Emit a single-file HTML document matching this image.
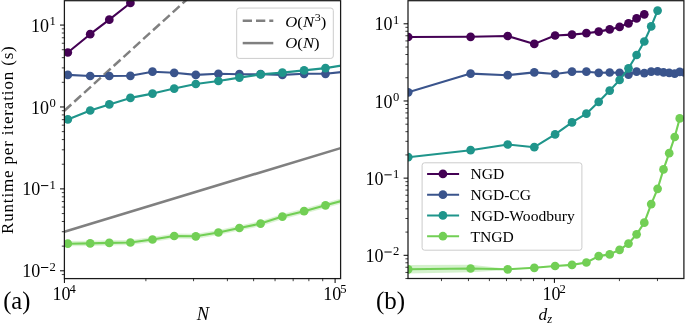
<!DOCTYPE html><html><head><meta charset="utf-8"><style>html,body{margin:0;padding:0;background:#fff;overflow:hidden;font-family:"Liberation Serif",serif;}svg{display:block;will-change:transform;}</style></head><body><svg width="685" height="323" viewBox="0 0 685 323">
<rect width="685" height="323" fill="#fff"/>
<defs><clipPath id="cl"><rect x="64.4" y="0" width="276.2" height="278.6"/></clipPath><clipPath id="cr"><rect x="408.0" y="0" width="275.9" height="278.5"/></clipPath></defs>
<g clip-path="url(#cl)">
<line x1="64.40" y1="110.70" x2="264.40" y2="-70.85" stroke="#808080" stroke-width="2.5" stroke-dasharray="9.29 4.01"/>
<line x1="64.40" y1="231.70" x2="340.60" y2="148.13" stroke="#808080" stroke-width="2.6" />
<polygon points="67.80,241.10 90.20,240.80 109.30,240.30 130.40,239.90 152.50,236.90 174.20,233.40 195.80,233.70 218.40,229.90 239.40,225.40 260.60,221.00 282.40,214.00 304.10,208.60 325.50,202.70 347.20,196.90 347.20,202.10 325.50,207.90 304.10,213.80 282.40,219.20 260.60,226.20 239.40,230.60 218.40,235.10 195.80,238.90 174.20,238.60 152.50,242.10 130.40,245.10 109.30,245.50 90.20,246.00 67.80,246.30" fill="#72cf55" fill-opacity="0.25"/>
<polyline points="67.80,52.50 90.20,34.20 109.30,19.70 130.40,3.00 152.50,-16.00" fill="none" stroke="#440154" stroke-width="2.1" stroke-linejoin="round" stroke-linecap="butt" />
<circle cx="67.80" cy="52.50" r="4.35" fill="#440154"/>
<circle cx="90.20" cy="34.20" r="4.35" fill="#440154"/>
<circle cx="109.30" cy="19.70" r="4.35" fill="#440154"/>
<circle cx="130.40" cy="3.00" r="4.35" fill="#440154"/>
<circle cx="152.50" cy="-16.00" r="4.35" fill="#440154"/>
<polyline points="67.80,74.90 90.20,76.00 109.30,76.00 130.40,75.80 152.50,71.70 174.20,72.80 195.80,74.90 218.40,73.80 239.40,74.20 260.60,74.20 282.40,74.90 304.10,73.80 325.50,73.80 347.20,71.50" fill="none" stroke="#3a548c" stroke-width="2.1" stroke-linejoin="round" stroke-linecap="butt" />
<circle cx="67.80" cy="74.90" r="4.35" fill="#3a548c"/>
<circle cx="90.20" cy="76.00" r="4.35" fill="#3a548c"/>
<circle cx="109.30" cy="76.00" r="4.35" fill="#3a548c"/>
<circle cx="130.40" cy="75.80" r="4.35" fill="#3a548c"/>
<circle cx="152.50" cy="71.70" r="4.35" fill="#3a548c"/>
<circle cx="174.20" cy="72.80" r="4.35" fill="#3a548c"/>
<circle cx="195.80" cy="74.90" r="4.35" fill="#3a548c"/>
<circle cx="218.40" cy="73.80" r="4.35" fill="#3a548c"/>
<circle cx="239.40" cy="74.20" r="4.35" fill="#3a548c"/>
<circle cx="260.60" cy="74.20" r="4.35" fill="#3a548c"/>
<circle cx="282.40" cy="74.90" r="4.35" fill="#3a548c"/>
<circle cx="304.10" cy="73.80" r="4.35" fill="#3a548c"/>
<circle cx="325.50" cy="73.80" r="4.35" fill="#3a548c"/>
<circle cx="347.20" cy="71.50" r="4.35" fill="#3a548c"/>
<polyline points="67.80,119.40 90.20,110.50 109.30,104.40 130.40,97.90 152.50,93.60 174.20,88.60 195.80,84.00 218.40,81.00 239.40,77.60 260.60,74.40 282.40,72.60 304.10,70.40 325.50,68.10 347.20,64.60" fill="none" stroke="#1f958b" stroke-width="2.1" stroke-linejoin="round" stroke-linecap="butt" />
<circle cx="67.80" cy="119.40" r="4.35" fill="#1f958b"/>
<circle cx="90.20" cy="110.50" r="4.35" fill="#1f958b"/>
<circle cx="109.30" cy="104.40" r="4.35" fill="#1f958b"/>
<circle cx="130.40" cy="97.90" r="4.35" fill="#1f958b"/>
<circle cx="152.50" cy="93.60" r="4.35" fill="#1f958b"/>
<circle cx="174.20" cy="88.60" r="4.35" fill="#1f958b"/>
<circle cx="195.80" cy="84.00" r="4.35" fill="#1f958b"/>
<circle cx="218.40" cy="81.00" r="4.35" fill="#1f958b"/>
<circle cx="239.40" cy="77.60" r="4.35" fill="#1f958b"/>
<circle cx="260.60" cy="74.40" r="4.35" fill="#1f958b"/>
<circle cx="282.40" cy="72.60" r="4.35" fill="#1f958b"/>
<circle cx="304.10" cy="70.40" r="4.35" fill="#1f958b"/>
<circle cx="325.50" cy="68.10" r="4.35" fill="#1f958b"/>
<circle cx="347.20" cy="64.60" r="4.35" fill="#1f958b"/>
<polyline points="67.80,243.70 90.20,243.40 109.30,242.90 130.40,242.50 152.50,239.50 174.20,236.00 195.80,236.30 218.40,232.50 239.40,228.00 260.60,223.60 282.40,216.60 304.10,211.20 325.50,205.30 347.20,199.50" fill="none" stroke="#72cf55" stroke-width="2.1" stroke-linejoin="round" stroke-linecap="butt" />
<circle cx="67.80" cy="243.70" r="4.35" fill="#72cf55"/>
<circle cx="90.20" cy="243.40" r="4.35" fill="#72cf55"/>
<circle cx="109.30" cy="242.90" r="4.35" fill="#72cf55"/>
<circle cx="130.40" cy="242.50" r="4.35" fill="#72cf55"/>
<circle cx="152.50" cy="239.50" r="4.35" fill="#72cf55"/>
<circle cx="174.20" cy="236.00" r="4.35" fill="#72cf55"/>
<circle cx="195.80" cy="236.30" r="4.35" fill="#72cf55"/>
<circle cx="218.40" cy="232.50" r="4.35" fill="#72cf55"/>
<circle cx="239.40" cy="228.00" r="4.35" fill="#72cf55"/>
<circle cx="260.60" cy="223.60" r="4.35" fill="#72cf55"/>
<circle cx="282.40" cy="216.60" r="4.35" fill="#72cf55"/>
<circle cx="304.10" cy="211.20" r="4.35" fill="#72cf55"/>
<circle cx="325.50" cy="205.30" r="4.35" fill="#72cf55"/>
<circle cx="347.20" cy="199.50" r="4.35" fill="#72cf55"/>
</g>
<g clip-path="url(#cr)">
<polygon points="408.20,265.10 470.60,264.80 507.70,268.70 534.30,267.30 555.10,265.50 572.00,264.40 586.40,262.00 598.70,255.60 609.70,253.90 619.60,249.30 628.50,243.10 636.60,233.80 644.30,222.20 651.20,203.60 657.60,188.30 663.50,168.90 669.20,152.70 674.70,136.50 679.70,117.90 679.70,118.90 674.70,137.50 669.20,153.70 663.50,169.90 657.60,189.30 651.20,204.60 644.30,223.20 636.60,234.80 628.50,244.10 619.60,250.30 609.70,254.90 598.70,256.60 586.40,263.00 572.00,265.40 555.10,266.50 534.30,268.30 507.70,269.90 470.60,272.20 408.20,273.50" fill="#72cf55" fill-opacity="0.3"/>
<polyline points="408.20,37.00 470.60,36.80 507.70,36.00 534.30,43.90 555.10,35.50 572.00,34.60 586.40,33.20 598.70,31.60 609.70,29.40 619.60,26.90 628.50,23.30 636.60,18.40 644.30,14.30" fill="none" stroke="#440154" stroke-width="2.1" stroke-linejoin="round" stroke-linecap="butt" />
<circle cx="408.20" cy="37.00" r="4.35" fill="#440154"/>
<circle cx="470.60" cy="36.80" r="4.35" fill="#440154"/>
<circle cx="507.70" cy="36.00" r="4.35" fill="#440154"/>
<circle cx="534.30" cy="43.90" r="4.35" fill="#440154"/>
<circle cx="555.10" cy="35.50" r="4.35" fill="#440154"/>
<circle cx="572.00" cy="34.60" r="4.35" fill="#440154"/>
<circle cx="586.40" cy="33.20" r="4.35" fill="#440154"/>
<circle cx="598.70" cy="31.60" r="4.35" fill="#440154"/>
<circle cx="609.70" cy="29.40" r="4.35" fill="#440154"/>
<circle cx="619.60" cy="26.90" r="4.35" fill="#440154"/>
<circle cx="628.50" cy="23.30" r="4.35" fill="#440154"/>
<circle cx="636.60" cy="18.40" r="4.35" fill="#440154"/>
<circle cx="644.30" cy="14.30" r="4.35" fill="#440154"/>
<polyline points="408.20,92.30 470.60,73.60 507.70,75.20 534.30,72.40 555.10,74.00 572.00,71.70 586.40,71.70 598.70,72.80 609.70,72.50 619.60,72.80 628.50,74.60 636.60,71.70 644.30,73.10 651.20,71.70 657.60,71.40 663.50,72.30 669.20,72.80 674.70,73.60 679.70,71.90 684.40,72.50" fill="none" stroke="#3a548c" stroke-width="2.1" stroke-linejoin="round" stroke-linecap="butt" />
<circle cx="408.20" cy="92.30" r="4.35" fill="#3a548c"/>
<circle cx="470.60" cy="73.60" r="4.35" fill="#3a548c"/>
<circle cx="507.70" cy="75.20" r="4.35" fill="#3a548c"/>
<circle cx="534.30" cy="72.40" r="4.35" fill="#3a548c"/>
<circle cx="555.10" cy="74.00" r="4.35" fill="#3a548c"/>
<circle cx="572.00" cy="71.70" r="4.35" fill="#3a548c"/>
<circle cx="586.40" cy="71.70" r="4.35" fill="#3a548c"/>
<circle cx="598.70" cy="72.80" r="4.35" fill="#3a548c"/>
<circle cx="609.70" cy="72.50" r="4.35" fill="#3a548c"/>
<circle cx="619.60" cy="72.80" r="4.35" fill="#3a548c"/>
<circle cx="628.50" cy="74.60" r="4.35" fill="#3a548c"/>
<circle cx="636.60" cy="71.70" r="4.35" fill="#3a548c"/>
<circle cx="644.30" cy="73.10" r="4.35" fill="#3a548c"/>
<circle cx="651.20" cy="71.70" r="4.35" fill="#3a548c"/>
<circle cx="657.60" cy="71.40" r="4.35" fill="#3a548c"/>
<circle cx="663.50" cy="72.30" r="4.35" fill="#3a548c"/>
<circle cx="669.20" cy="72.80" r="4.35" fill="#3a548c"/>
<circle cx="674.70" cy="73.60" r="4.35" fill="#3a548c"/>
<circle cx="679.70" cy="71.90" r="4.35" fill="#3a548c"/>
<circle cx="684.40" cy="72.50" r="4.35" fill="#3a548c"/>
<polyline points="408.20,157.20 470.60,150.20 507.70,144.50 534.30,147.20 555.10,134.40 572.00,122.40 586.40,113.70 598.70,101.80 609.70,90.60 619.60,80.00 628.50,68.30 636.60,55.00 644.30,41.50 651.20,26.40 657.60,10.60" fill="none" stroke="#1f958b" stroke-width="2.1" stroke-linejoin="round" stroke-linecap="butt" />
<circle cx="408.20" cy="157.20" r="4.35" fill="#1f958b"/>
<circle cx="470.60" cy="150.20" r="4.35" fill="#1f958b"/>
<circle cx="507.70" cy="144.50" r="4.35" fill="#1f958b"/>
<circle cx="534.30" cy="147.20" r="4.35" fill="#1f958b"/>
<circle cx="555.10" cy="134.40" r="4.35" fill="#1f958b"/>
<circle cx="572.00" cy="122.40" r="4.35" fill="#1f958b"/>
<circle cx="586.40" cy="113.70" r="4.35" fill="#1f958b"/>
<circle cx="598.70" cy="101.80" r="4.35" fill="#1f958b"/>
<circle cx="609.70" cy="90.60" r="4.35" fill="#1f958b"/>
<circle cx="619.60" cy="80.00" r="4.35" fill="#1f958b"/>
<circle cx="628.50" cy="68.30" r="4.35" fill="#1f958b"/>
<circle cx="636.60" cy="55.00" r="4.35" fill="#1f958b"/>
<circle cx="644.30" cy="41.50" r="4.35" fill="#1f958b"/>
<circle cx="651.20" cy="26.40" r="4.35" fill="#1f958b"/>
<circle cx="657.60" cy="10.60" r="4.35" fill="#1f958b"/>
<polyline points="408.20,269.30 470.60,268.50 507.70,269.30 534.30,267.80 555.10,266.00 572.00,264.90 586.40,262.50 598.70,256.10 609.70,254.40 619.60,249.80 628.50,243.60 636.60,234.30 644.30,222.70 651.20,204.10 657.60,188.80 663.50,169.40 669.20,153.20 674.70,137.00 679.70,118.40" fill="none" stroke="#72cf55" stroke-width="2.1" stroke-linejoin="round" stroke-linecap="butt" />
<circle cx="408.20" cy="269.30" r="4.35" fill="#72cf55"/>
<circle cx="470.60" cy="268.50" r="4.35" fill="#72cf55"/>
<circle cx="507.70" cy="269.30" r="4.35" fill="#72cf55"/>
<circle cx="534.30" cy="267.80" r="4.35" fill="#72cf55"/>
<circle cx="555.10" cy="266.00" r="4.35" fill="#72cf55"/>
<circle cx="572.00" cy="264.90" r="4.35" fill="#72cf55"/>
<circle cx="586.40" cy="262.50" r="4.35" fill="#72cf55"/>
<circle cx="598.70" cy="256.10" r="4.35" fill="#72cf55"/>
<circle cx="609.70" cy="254.40" r="4.35" fill="#72cf55"/>
<circle cx="619.60" cy="249.80" r="4.35" fill="#72cf55"/>
<circle cx="628.50" cy="243.60" r="4.35" fill="#72cf55"/>
<circle cx="636.60" cy="234.30" r="4.35" fill="#72cf55"/>
<circle cx="644.30" cy="222.70" r="4.35" fill="#72cf55"/>
<circle cx="651.20" cy="204.10" r="4.35" fill="#72cf55"/>
<circle cx="657.60" cy="188.80" r="4.35" fill="#72cf55"/>
<circle cx="663.50" cy="169.40" r="4.35" fill="#72cf55"/>
<circle cx="669.20" cy="153.20" r="4.35" fill="#72cf55"/>
<circle cx="674.70" cy="137.00" r="4.35" fill="#72cf55"/>
<circle cx="679.70" cy="118.40" r="4.35" fill="#72cf55"/>
</g>
<rect x="64.40" y="0.70" width="276.20" height="277.90" fill="none" stroke="#1a1a1a" stroke-width="1.25"/>
<rect x="408.00" y="0.70" width="275.90" height="277.80" fill="none" stroke="#1a1a1a" stroke-width="1.25"/>
<line x1="61.80" y1="274.55" x2="64.40" y2="274.55" stroke="#000" stroke-width="0.75" />
<line x1="60.00" y1="270.80" x2="64.40" y2="270.80" stroke="#000" stroke-width="1.0" />
<line x1="61.80" y1="246.14" x2="64.40" y2="246.14" stroke="#000" stroke-width="0.75" />
<line x1="61.80" y1="231.72" x2="64.40" y2="231.72" stroke="#000" stroke-width="0.75" />
<line x1="61.80" y1="221.49" x2="64.40" y2="221.49" stroke="#000" stroke-width="0.75" />
<line x1="61.80" y1="213.55" x2="64.40" y2="213.55" stroke="#000" stroke-width="0.75" />
<line x1="61.80" y1="207.06" x2="64.40" y2="207.06" stroke="#000" stroke-width="0.75" />
<line x1="61.80" y1="201.58" x2="64.40" y2="201.58" stroke="#000" stroke-width="0.75" />
<line x1="61.80" y1="196.83" x2="64.40" y2="196.83" stroke="#000" stroke-width="0.75" />
<line x1="61.80" y1="192.64" x2="64.40" y2="192.64" stroke="#000" stroke-width="0.75" />
<line x1="60.00" y1="188.89" x2="64.40" y2="188.89" stroke="#000" stroke-width="1.0" />
<line x1="61.80" y1="164.23" x2="64.40" y2="164.23" stroke="#000" stroke-width="0.75" />
<line x1="61.80" y1="149.81" x2="64.40" y2="149.81" stroke="#000" stroke-width="0.75" />
<line x1="61.80" y1="139.58" x2="64.40" y2="139.58" stroke="#000" stroke-width="0.75" />
<line x1="61.80" y1="131.64" x2="64.40" y2="131.64" stroke="#000" stroke-width="0.75" />
<line x1="61.80" y1="125.15" x2="64.40" y2="125.15" stroke="#000" stroke-width="0.75" />
<line x1="61.80" y1="119.67" x2="64.40" y2="119.67" stroke="#000" stroke-width="0.75" />
<line x1="61.80" y1="114.92" x2="64.40" y2="114.92" stroke="#000" stroke-width="0.75" />
<line x1="61.80" y1="110.73" x2="64.40" y2="110.73" stroke="#000" stroke-width="0.75" />
<line x1="60.00" y1="106.98" x2="64.40" y2="106.98" stroke="#000" stroke-width="1.0" />
<line x1="61.80" y1="82.32" x2="64.40" y2="82.32" stroke="#000" stroke-width="0.75" />
<line x1="61.80" y1="67.90" x2="64.40" y2="67.90" stroke="#000" stroke-width="0.75" />
<line x1="61.80" y1="57.67" x2="64.40" y2="57.67" stroke="#000" stroke-width="0.75" />
<line x1="61.80" y1="49.73" x2="64.40" y2="49.73" stroke="#000" stroke-width="0.75" />
<line x1="61.80" y1="43.24" x2="64.40" y2="43.24" stroke="#000" stroke-width="0.75" />
<line x1="61.80" y1="37.76" x2="64.40" y2="37.76" stroke="#000" stroke-width="0.75" />
<line x1="61.80" y1="33.01" x2="64.40" y2="33.01" stroke="#000" stroke-width="0.75" />
<line x1="61.80" y1="28.82" x2="64.40" y2="28.82" stroke="#000" stroke-width="0.75" />
<line x1="60.00" y1="25.07" x2="64.40" y2="25.07" stroke="#000" stroke-width="1.0" />
<line x1="405.40" y1="278.54" x2="408.00" y2="278.54" stroke="#000" stroke-width="0.75" />
<line x1="405.40" y1="272.43" x2="408.00" y2="272.43" stroke="#000" stroke-width="0.75" />
<line x1="405.40" y1="267.26" x2="408.00" y2="267.26" stroke="#000" stroke-width="0.75" />
<line x1="405.40" y1="262.79" x2="408.00" y2="262.79" stroke="#000" stroke-width="0.75" />
<line x1="405.40" y1="258.84" x2="408.00" y2="258.84" stroke="#000" stroke-width="0.75" />
<line x1="403.60" y1="255.31" x2="408.00" y2="255.31" stroke="#000" stroke-width="1.0" />
<line x1="405.40" y1="232.08" x2="408.00" y2="232.08" stroke="#000" stroke-width="0.75" />
<line x1="405.40" y1="218.49" x2="408.00" y2="218.49" stroke="#000" stroke-width="0.75" />
<line x1="405.40" y1="208.85" x2="408.00" y2="208.85" stroke="#000" stroke-width="0.75" />
<line x1="405.40" y1="201.37" x2="408.00" y2="201.37" stroke="#000" stroke-width="0.75" />
<line x1="405.40" y1="195.26" x2="408.00" y2="195.26" stroke="#000" stroke-width="0.75" />
<line x1="405.40" y1="190.09" x2="408.00" y2="190.09" stroke="#000" stroke-width="0.75" />
<line x1="405.40" y1="185.62" x2="408.00" y2="185.62" stroke="#000" stroke-width="0.75" />
<line x1="405.40" y1="181.67" x2="408.00" y2="181.67" stroke="#000" stroke-width="0.75" />
<line x1="403.60" y1="178.14" x2="408.00" y2="178.14" stroke="#000" stroke-width="1.0" />
<line x1="405.40" y1="154.91" x2="408.00" y2="154.91" stroke="#000" stroke-width="0.75" />
<line x1="405.40" y1="141.32" x2="408.00" y2="141.32" stroke="#000" stroke-width="0.75" />
<line x1="405.40" y1="131.68" x2="408.00" y2="131.68" stroke="#000" stroke-width="0.75" />
<line x1="405.40" y1="124.20" x2="408.00" y2="124.20" stroke="#000" stroke-width="0.75" />
<line x1="405.40" y1="118.09" x2="408.00" y2="118.09" stroke="#000" stroke-width="0.75" />
<line x1="405.40" y1="112.92" x2="408.00" y2="112.92" stroke="#000" stroke-width="0.75" />
<line x1="405.40" y1="108.45" x2="408.00" y2="108.45" stroke="#000" stroke-width="0.75" />
<line x1="405.40" y1="104.50" x2="408.00" y2="104.50" stroke="#000" stroke-width="0.75" />
<line x1="403.60" y1="100.97" x2="408.00" y2="100.97" stroke="#000" stroke-width="1.0" />
<line x1="405.40" y1="77.74" x2="408.00" y2="77.74" stroke="#000" stroke-width="0.75" />
<line x1="405.40" y1="64.15" x2="408.00" y2="64.15" stroke="#000" stroke-width="0.75" />
<line x1="405.40" y1="54.51" x2="408.00" y2="54.51" stroke="#000" stroke-width="0.75" />
<line x1="405.40" y1="47.03" x2="408.00" y2="47.03" stroke="#000" stroke-width="0.75" />
<line x1="405.40" y1="40.92" x2="408.00" y2="40.92" stroke="#000" stroke-width="0.75" />
<line x1="405.40" y1="35.75" x2="408.00" y2="35.75" stroke="#000" stroke-width="0.75" />
<line x1="405.40" y1="31.28" x2="408.00" y2="31.28" stroke="#000" stroke-width="0.75" />
<line x1="405.40" y1="27.33" x2="408.00" y2="27.33" stroke="#000" stroke-width="0.75" />
<line x1="403.60" y1="23.80" x2="408.00" y2="23.80" stroke="#000" stroke-width="1.0" />
<line x1="64.40" y1="278.60" x2="64.40" y2="283.00" stroke="#000" stroke-width="1.0" />
<line x1="145.89" y1="278.60" x2="145.89" y2="281.20" stroke="#000" stroke-width="0.75" />
<line x1="193.56" y1="278.60" x2="193.56" y2="281.20" stroke="#000" stroke-width="0.75" />
<line x1="227.38" y1="278.60" x2="227.38" y2="281.20" stroke="#000" stroke-width="0.75" />
<line x1="253.61" y1="278.60" x2="253.61" y2="281.20" stroke="#000" stroke-width="0.75" />
<line x1="275.05" y1="278.60" x2="275.05" y2="281.20" stroke="#000" stroke-width="0.75" />
<line x1="293.17" y1="278.60" x2="293.17" y2="281.20" stroke="#000" stroke-width="0.75" />
<line x1="308.87" y1="278.60" x2="308.87" y2="281.20" stroke="#000" stroke-width="0.75" />
<line x1="322.71" y1="278.60" x2="322.71" y2="281.20" stroke="#000" stroke-width="0.75" />
<line x1="335.10" y1="278.60" x2="335.10" y2="283.00" stroke="#000" stroke-width="1.0" />
<line x1="441.46" y1="278.50" x2="441.46" y2="281.10" stroke="#000" stroke-width="0.75" />
<line x1="468.44" y1="278.50" x2="468.44" y2="281.10" stroke="#000" stroke-width="0.75" />
<line x1="489.38" y1="278.50" x2="489.38" y2="281.10" stroke="#000" stroke-width="0.75" />
<line x1="506.48" y1="278.50" x2="506.48" y2="281.10" stroke="#000" stroke-width="0.75" />
<line x1="520.94" y1="278.50" x2="520.94" y2="281.10" stroke="#000" stroke-width="0.75" />
<line x1="533.47" y1="278.50" x2="533.47" y2="281.10" stroke="#000" stroke-width="0.75" />
<line x1="544.52" y1="278.50" x2="544.52" y2="281.10" stroke="#000" stroke-width="0.75" />
<line x1="554.40" y1="278.50" x2="554.40" y2="282.90" stroke="#000" stroke-width="1.0" />
<line x1="619.42" y1="278.50" x2="619.42" y2="281.10" stroke="#000" stroke-width="0.75" />
<line x1="657.46" y1="278.50" x2="657.46" y2="281.10" stroke="#000" stroke-width="0.75" />
<text font-family="'Liberation Serif', serif" font-size="12.6" text-anchor="middle" x="52.70" y="24.97">1</text>
<text font-family="'Liberation Serif', serif" font-size="18.0" text-anchor="middle" x="40.10" y="31.67">10</text>
<text font-family="'Liberation Serif', serif" font-size="12.6" text-anchor="middle" x="396.10" y="23.70">1</text>
<text font-family="'Liberation Serif', serif" font-size="18.0" text-anchor="middle" x="383.50" y="30.40">10</text>
<text font-family="'Liberation Serif', serif" font-size="12.6" text-anchor="middle" x="52.70" y="106.88">0</text>
<text font-family="'Liberation Serif', serif" font-size="18.0" text-anchor="middle" x="40.10" y="113.58">10</text>
<text font-family="'Liberation Serif', serif" font-size="12.6" text-anchor="middle" x="396.10" y="100.87">0</text>
<text font-family="'Liberation Serif', serif" font-size="18.0" text-anchor="middle" x="383.50" y="107.57">10</text>
<text font-family="'Liberation Serif', serif" font-size="12.6" text-anchor="middle" x="52.70" y="188.79">1</text>
<rect x="41.00" y="185.09" width="7.3" height="1.0" fill="#000"/>
<text font-family="'Liberation Serif', serif" font-size="18.0" text-anchor="middle" x="31.20" y="195.49">10</text>
<text font-family="'Liberation Serif', serif" font-size="12.6" text-anchor="middle" x="396.10" y="178.04">1</text>
<rect x="384.40" y="174.34" width="7.3" height="1.0" fill="#000"/>
<text font-family="'Liberation Serif', serif" font-size="18.0" text-anchor="middle" x="374.60" y="184.74">10</text>
<text font-family="'Liberation Serif', serif" font-size="12.6" text-anchor="middle" x="52.70" y="270.70">2</text>
<rect x="41.00" y="267.00" width="7.3" height="1.0" fill="#000"/>
<text font-family="'Liberation Serif', serif" font-size="18.0" text-anchor="middle" x="31.20" y="277.40">10</text>
<text font-family="'Liberation Serif', serif" font-size="12.6" text-anchor="middle" x="396.10" y="255.21">2</text>
<rect x="384.40" y="251.51" width="7.3" height="1.0" fill="#000"/>
<text font-family="'Liberation Serif', serif" font-size="18.0" text-anchor="middle" x="374.60" y="261.91">10</text>
<text font-family="'Liberation Serif', serif" font-size="18.0" text-anchor="middle" x="61.50" y="300.20">10</text>
<text font-family="'Liberation Serif', serif" font-size="12.6" text-anchor="middle" x="72.70" y="292.70">4</text>
<text font-family="'Liberation Serif', serif" font-size="18.0" text-anchor="middle" x="332.20" y="300.20">10</text>
<text font-family="'Liberation Serif', serif" font-size="12.6" text-anchor="middle" x="343.40" y="292.70">5</text>
<text font-family="'Liberation Serif', serif" font-size="18.0" text-anchor="middle" x="551.50" y="300.20">10</text>
<text font-family="'Liberation Serif', serif" font-size="12.6" text-anchor="middle" x="562.70" y="292.70">2</text>
<text font-family="'Liberation Serif', serif" font-size="18.5" font-style="italic" x="196.8" y="319.7">N</text>
<text font-family="'Liberation Serif', serif" font-size="17.5" font-style="italic" x="538.5" y="319.9">d<tspan font-size="12.6" dy="3.3">z</tspan></text>
<text font-family="'Liberation Serif', serif" font-size="24.5" x="3.2" y="308.7">(a)</text>
<text font-family="'Liberation Serif', serif" font-size="25" x="376" y="308.7">(b)</text>
<text font-family="'Liberation Serif', serif" font-size="17" transform="translate(13.2,234) rotate(-90)" textLength="187.8" lengthAdjust="spacing">Runtime per iteration (s)</text>
<rect x="236.7" y="8.05" width="96.6" height="50.35" rx="2.5" fill="#fff" fill-opacity="0.8" stroke="#cccccc" stroke-width="1"/>
<line x1="242.70" y1="20.70" x2="273.30" y2="20.70" stroke="#808080" stroke-width="2.5" stroke-dasharray="9.29 4.01"/>
<line x1="242.70" y1="43.10" x2="273.30" y2="43.10" stroke="#808080" stroke-width="2.5" />
<text font-family="'Liberation Serif', serif" font-size="14.5" x="285.3" y="26.9" textLength="41" lengthAdjust="spacingAndGlyphs"><tspan font-style="italic">O</tspan>(<tspan font-style="italic">N</tspan><tspan font-size="10.5" dy="-6.3" dx="0.6">3</tspan><tspan dy="6.3">)</tspan></text>
<text font-family="'Liberation Serif', serif" font-size="14.5" x="285.3" y="48.4" textLength="34.3" lengthAdjust="spacingAndGlyphs"><tspan font-style="italic">O</tspan>(<tspan font-style="italic">N</tspan>)</text>
<rect x="422.1" y="162.8" width="159.8" height="87.4" rx="2.5" fill="#fff" fill-opacity="0.8" stroke="#cccccc" stroke-width="1"/>
<line x1="427.10" y1="173.90" x2="459.10" y2="173.90" stroke="#440154" stroke-width="2.0" />
<circle cx="442.9" cy="173.90" r="4.35" fill="#440154"/>
<text font-family="'Liberation Serif', serif" font-size="15.6" x="470.4" y="179.30">NGD</text>
<line x1="427.10" y1="194.67" x2="459.10" y2="194.67" stroke="#3a548c" stroke-width="2.0" />
<circle cx="442.9" cy="194.67" r="4.35" fill="#3a548c"/>
<text font-family="'Liberation Serif', serif" font-size="15.6" x="470.4" y="200.07">NGD-CG</text>
<line x1="427.10" y1="215.44" x2="459.10" y2="215.44" stroke="#1f958b" stroke-width="2.0" />
<circle cx="442.9" cy="215.44" r="4.35" fill="#1f958b"/>
<text font-family="'Liberation Serif', serif" font-size="15.6" x="470.4" y="220.84">NGD-Woodbury</text>
<line x1="427.10" y1="236.21" x2="459.10" y2="236.21" stroke="#72cf55" stroke-width="2.0" />
<circle cx="442.9" cy="236.21" r="4.35" fill="#72cf55"/>
<text font-family="'Liberation Serif', serif" font-size="15.6" x="470.4" y="241.61">TNGD</text>
</svg></body></html>
